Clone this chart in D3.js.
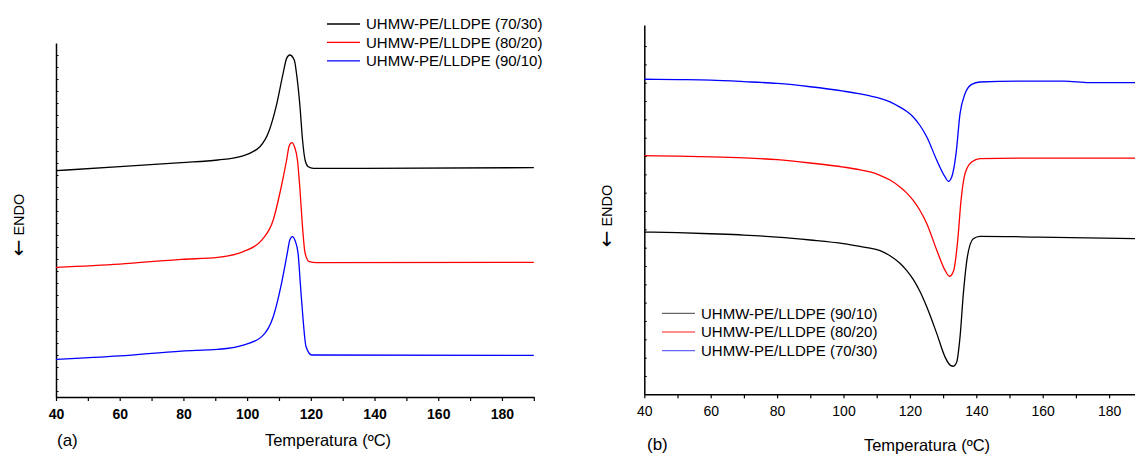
<!DOCTYPE html>
<html>
<head>
<meta charset="utf-8">
<script src="https://cdn.jsdelivr.net/npm/d3@7"></script>
<style>
  body { margin: 0; background: #fff; }
  svg { display: block; font-family: "Liberation Sans", Arial, sans-serif; }
</style>
</head>
<body>
<svg width="1135" height="455"></svg>
<script>
// ---- data (heat flow in arbitrary units) ----
const xTicks = [40, 60, 80, 100, 120, 140, 160, 180]

// panel (a): crystallisation (exotherm up)
const tempA1 = [40, 60, 79.4, 90.8, 97.8, 104, 107, 109.1, 111.3, 112.4, 113.4, 114.8, 115.5, 116.6, 117.4, 118.2, 119.2, 120.8, 136.5, 190]
const flowA1 = [18.86, 19.19, 19.53, 19.75, 20.03, 20.86, 22.25, 24.19, 26.97, 28.22, 28.5, 28.08, 26.97, 24.19, 21.42, 19.75, 19.19, 19.06, 19.06, 19.11]
const tempA2 = [40, 60, 79.4, 90.8, 98.8, 104.6, 108.2, 110.5, 112.4, 113.2, 114, 114.9, 115.8, 116.6, 117.3, 118.2, 119.5, 121.8, 190]
const flowA2 = [10.81, 11.08, 11.47, 11.64, 12.11, 13.08, 14.75, 17.25, 19.75, 20.92, 21.19, 20.83, 19.75, 17.25, 14.5, 12.0, 11.28, 11.19, 11.22]
const tempA3 = [40, 60, 79.4, 90.8, 98.8, 104.6, 108.2, 110.8, 112.6, 113.4, 114.2, 115.1, 116, 116.7, 117.5, 118.5, 120.3, 190]
const flowA3 = [3.14, 3.42, 3.83, 3.97, 4.33, 5.03, 6.69, 9.47, 11.97, 13.08, 13.36, 13.0, 11.97, 9.47, 6.69, 4.19, 3.5, 3.47]
const namesA = ['UHMW-PE/LLDPE (70/30)', 'UHMW-PE/LLDPE (80/20)', 'UHMW-PE/LLDPE (90/10)']

// panel (b): melting (endotherm down)
const tempB1 = [40, 50, 60, 70, 80, 90, 100, 105, 108, 111, 114, 117, 119, 121, 123, 125.1, 128.1, 130.6, 132.2, 133.1, 134.1, 135.1, 136.1, 137.3, 139.1, 141.1, 158.8, 190]
const flowB1 = [8.85, 8.82, 8.76, 8.69, 8.58, 8.42, 8.22, 8.07, 7.97, 7.84, 7.56, 7.15, 6.76, 6.27, 5.62, 4.76, 3.31, 2.03, 1.58, 1.53, 1.76, 3.13, 5.49, 7.49, 8.49, 8.62, 8.58, 8.49]
const tempB2 = [40, 50, 60, 70, 80, 90, 100, 105, 108, 111, 114, 117, 119, 121, 123, 125.1, 128.1, 130.6, 131.9, 133.2, 134.4, 135.4, 136.6, 138.6, 141.1, 156, 190]
const flowB2 = [13.02, 13.0, 12.96, 12.9, 12.8, 12.62, 12.4, 12.25, 12.13, 11.95, 11.69, 11.31, 10.99, 10.58, 10.04, 9.31, 7.86, 6.76, 6.44, 6.76, 8.4, 10.58, 12.04, 12.67, 12.86, 12.89, 12.89]
const tempB3 = [40, 50, 60, 70, 80, 90, 100, 105, 108, 111, 114, 117, 119, 121, 123, 125.1, 128.1, 130.6, 131.6, 132.6, 133.9, 135.1, 136.6, 138.6, 141.1, 156, 166.4, 174, 190]
const flowB3 = [17.19, 17.17, 17.14, 17.06, 16.96, 16.78, 16.54, 16.39, 16.28, 16.15, 15.96, 15.67, 15.44, 15.13, 14.68, 14.04, 12.77, 11.86, 11.62, 11.86, 13.13, 15.31, 16.4, 16.91, 17.04, 17.09, 17.09, 17.01, 17.01]
const namesB = ['UHMW-PE/LLDPE (90/10)', 'UHMW-PE/LLDPE (80/20)', 'UHMW-PE/LLDPE (70/30)']

const colors = ['#000000', '#ff0000', '#0000ff']

const svg = d3.select('svg')

function zip(t, f) {
  return t.map((d, i) => [d, f[i]])
}

function drawPanel(p) {
  const g = svg.append('g')
  const x = d3.scaleLinear().domain([40, 190]).range([p.left, p.right])
  const y = d3.scaleLinear().domain([0, p.yMax]).range([p.bottom, p.top])

  // x axis
  const xAxis = d3.axisBottom(x)
    .tickValues(d3.range(40, 191, 10))
    .tickFormat(d => xTicks.includes(d) ? d : '')
    .tickSize(4)
    .tickSizeOuter(0)
    .tickPadding(p.pad)
  const gx = g.append('g')
    .attr('transform', `translate(0,${p.bottom})`)
    .call(xAxis)
  gx.select('.domain').attr('stroke-width', 1.5)
  gx.selectAll('.tick line').attr('stroke-width', 1.2)
  gx.selectAll('text')
    .attr('font-family', '"Liberation Sans", Arial, sans-serif')
    .attr('font-size', 14)
    .attr('font-weight', p.bold ? 'bold' : 'normal')
    .attr('fill', '#000')

  // y axis, unlabelled minor ticks pointing inwards
  const yAxis = d3.axisRight(y)
    .tickValues(p.yTicks)
    .tickFormat('')
    .tickSize(2.5)
    .tickSizeOuter(0)
  const gy = g.append('g')
    .attr('transform', `translate(${p.left},0)`)
    .call(yAxis)
  gy.select('.domain').attr('stroke-width', 1.5)

  const line = d3.line()
    .x(d => x(d[0]))
    .y(d => y(d[1]))
    .curve(d3.curveMonotoneX)

  p.series.forEach((s, i) => {
    g.append('path')
      .datum(s)
      .attr('fill', 'none')
      .attr('stroke', p.colors[i])
      .attr('stroke-width', 1.3)
      .attr('d', line)
  })

  // legend
  p.names.forEach((n, i) => {
    const ly = p.legY + i * p.legStep
    g.append('line')
      .attr('x1', p.legX).attr('x2', p.legX + 33)
      .attr('y1', ly).attr('y2', ly)
      .attr('stroke', p.colors[i])
      .attr('stroke-width', 1.3)
      .attr('stroke-opacity', p.legOpacity)
    g.append('text')
      .attr('x', p.legX + 39)
      .attr('y', ly)
      .attr('dy', '0.36em')
      .attr('font-size', 15)
      .text(n)
  })

  // axis title and panel letter
  g.append('text')
    .attr('x', p.titleX)
    .attr('y', p.titleY)
    .attr('text-anchor', 'middle')
    .attr('font-size', 16.5)
    .text('Temperatura (ºC)')
  g.append('text')
    .attr('x', p.letterX)
    .attr('y', p.letterY)
    .attr('font-size', 17)
    .text(p.letter)

  const endo = g.append('text')
    .attr('transform', `translate(${p.endoX},${p.endoY}) rotate(-90)`)
    .attr('text-anchor', 'middle')
    .attr('font-size', 14.5)
  endo.append('tspan')
    .attr('font-family', '"DejaVu Sans", sans-serif')
    .attr('font-size', 20)
    .attr('font-weight', 'normal')
    .attr('dy', '0.06em')
    .text('←')
  endo.append('tspan')
    .attr('dy', '-0.06em')
    .text(' ENDO')
}

drawPanel({
  left: 56, right: 533.8, top: 43, bottom: 397, yMax: 29.5,
  yTicks: d3.range(0.5, 29.5, 1), pad: 8, bold: true,
  series: [zip(tempA1, flowA1), zip(tempA2, flowA2), zip(tempA3, flowA3)],
  colors: colors, names: namesA,
  legX: 327, legY: 24, legStep: 18.4, legOpacity: 1,
  titleX: 328, titleY: 446, letter: '(a)', letterX: 57, letterY: 446,
  endoX: 24, endoY: 225
})

drawPanel({
  left: 644.3, right: 1142.3, top: 25, bottom: 394.3, yMax: 20.15,
  yTicks: d3.range(1, 20, 1), pad: 8, bold: false,
  series: [zip(tempB1, flowB1), zip(tempB2, flowB2), zip(tempB3, flowB3)],
  colors: colors, names: namesB,
  legX: 662, legY: 313.3, legStep: 18.7, legOpacity: 0.6,
  titleX: 927, titleY: 451, letter: '(b)', letterX: 647, letterY: 450,
  endoX: 612, endoY: 216
})
</script>
</body>
</html>
